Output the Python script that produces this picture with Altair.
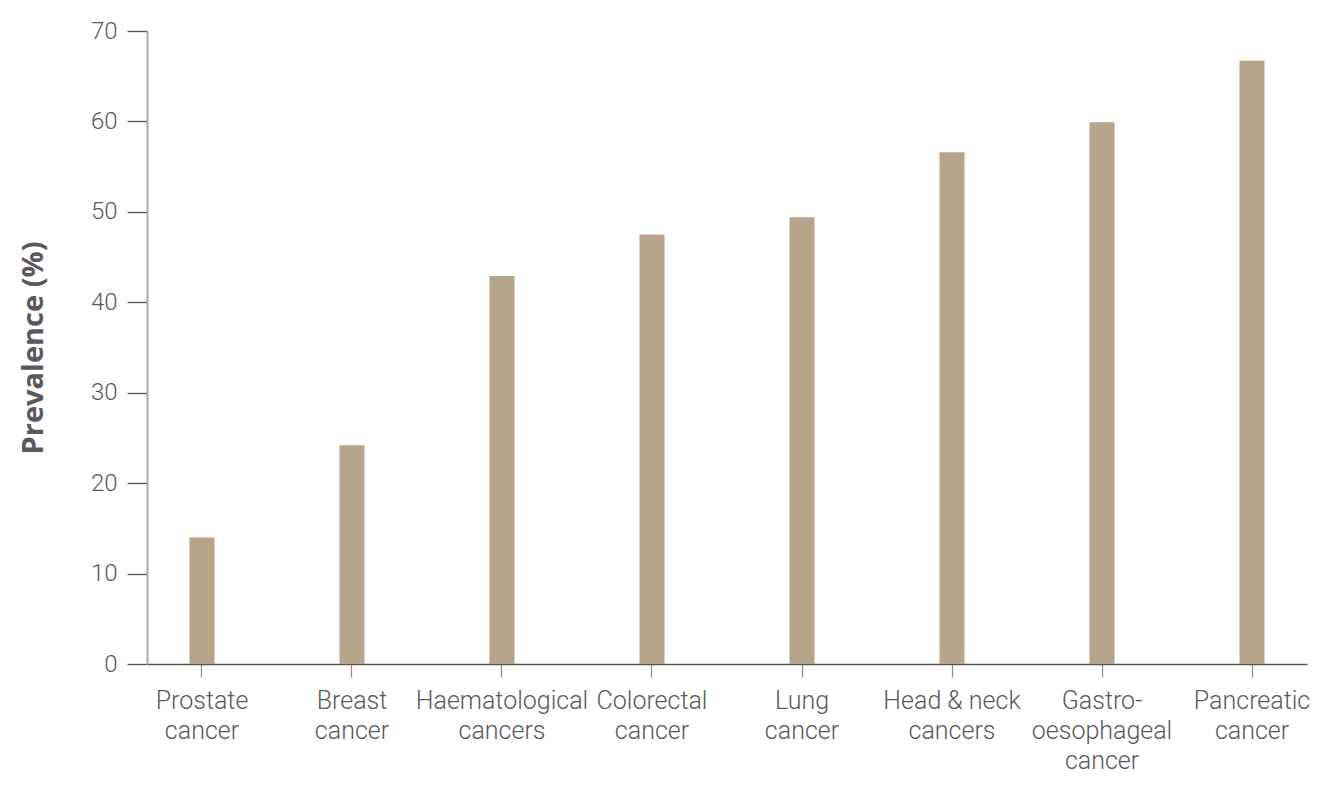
import altair as alt
import pandas as pd

categories = [
    "Prostate|cancer",
    "Breast|cancer",
    "Haematological|cancers",
    "Colorectal|cancer",
    "Lung|cancer",
    "Head & neck|cancers",
    "Gastro-|oesophageal|cancer",
    "Pancreatic|cancer",
]
prevalence = [14.0, 24.2, 42.9, 47.5, 49.4, 56.6, 59.9, 66.7]
y_ticks = [0, 10, 20, 30, 40, 50, 60, 70]

df = pd.DataFrame({"cancer": categories, "prevalence": prevalence})

text_color = "#58595b"

chart = (
    alt.Chart(df)
    .mark_bar(color="#b5a58a")
    .encode(
        x=alt.X(
            "cancer:N",
            sort=categories,
            scale=alt.Scale(paddingInner=0.833, paddingOuter=0.283),
            axis=alt.Axis(
                title=None,
                labelAngle=0,
                labelExpr="split(datum.label, '|')",
                labelFont="Roboto",
                labelFontSize=25,
                labelFontWeight=300,
                labelColor=text_color,
                labelLineHeight=30,
                labelPadding=11,
                labelLimit=400,
                labelOverlap=False,
                labelBaseline="top",
                domainColor="#555555",
                domainWidth=1.3,
                tickColor="#888888",
                tickSize=13,
                tickWidth=1.2,
            ),
        ),
        y=alt.Y(
            "prevalence:Q",
            scale=alt.Scale(domain=[0, 70], nice=False),
            axis=alt.Axis(
                title="Prevalence (%)",
                values=y_ticks,
                grid=False,
                labelFont="Roboto",
                labelFontSize=24,
                labelFontWeight=300,
                labelColor=text_color,
                labelPadding=10,
                tickSize=20,
                tickColor="#555555",
                tickWidth=1.3,
                domainColor="#aaaaaa",
                domainWidth=2,
                titleFont="Open Sans",
                titleFontSize=29,
                titleFontWeight="bold",
                titleColor=text_color,
                titlePadding=42,
            ),
        ),
    )
    .properties(
        width=1160,
        height=633,
        padding={"left": 11, "top": 11, "right": 5, "bottom": 5},
    )
    .configure_view(stroke=None)
)

chart.save("out.html", embed_options={"renderer": "svg", "actions": False})
